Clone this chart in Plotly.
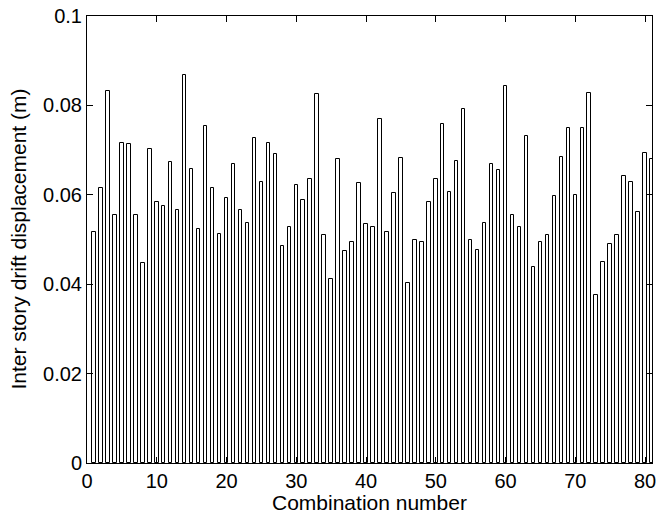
import plotly.graph_objects as go

combination = list(range(1, 82))
drift = [0.0517, 0.0615, 0.0832, 0.0554, 0.0717, 0.0714, 0.0554, 0.0447, 0.0703, 0.0585,
         0.0576, 0.0674, 0.0565, 0.0868, 0.0657, 0.0524, 0.0753, 0.0615, 0.0513, 0.0592,
         0.0668, 0.0565, 0.0538, 0.0726, 0.0629, 0.0717, 0.0691, 0.0486, 0.0527, 0.0623,
         0.0588, 0.0635, 0.0826, 0.0509, 0.0412, 0.0679, 0.0474, 0.0494, 0.0626, 0.0535,
         0.0527, 0.0770, 0.0517, 0.0603, 0.0682, 0.0403, 0.0500, 0.0494, 0.0585, 0.0635,
         0.0759, 0.0606, 0.0676, 0.0793, 0.0500, 0.0477, 0.0538, 0.0670, 0.0656, 0.0844,
         0.0554, 0.0527, 0.0732, 0.0438, 0.0494, 0.0509, 0.0597, 0.0685, 0.0749, 0.0600,
         0.0749, 0.0828, 0.0376, 0.0450, 0.0489, 0.0509, 0.0641, 0.0629, 0.0562, 0.0693,
         0.0679]
x_ticks = [0, 10, 20, 30, 40, 50, 60, 70, 80]
y_ticks = [0, 0.02, 0.04, 0.06, 0.08, 0.1]
y_tick_labels = ["0", "0.02", "0.04", "0.06", "0.08", "0.1"]
x_title = "Combination number"
y_title = "Inter story drift displacement (m)"

FONT = "Liberation Sans, Arial, sans-serif"

fig = go.Figure(go.Bar(
    x=combination, y=drift, width=0.5,
    marker=dict(color="white", line=dict(color="black", width=1)),
))

fig.update_layout(
    width=659, height=519,
    margin=dict(l=87, r=3, t=16, b=56),
    paper_bgcolor="white", plot_bgcolor="white",
    font=dict(family=FONT, size=20, color="black"),
    showlegend=False,
    bargap=0,
)
fig.update_xaxes(
    range=[0, 81], tickvals=x_ticks, ticks="inside", ticklen=6, tickcolor="black",
    showline=True, linecolor="black", linewidth=1, mirror="ticks",
    showgrid=False, zeroline=False, ticklabeloverflow="allow",
)
fig.update_yaxes(
    range=[0, 0.1], tickvals=y_ticks, ticktext=y_tick_labels, ticks="inside", ticklen=6,
    tickcolor="black", showline=True, linecolor="black", linewidth=1, mirror="ticks",
    showgrid=False, zeroline=False, ticklabeloverflow="allow",
)
fig.add_annotation(
    text=x_title, xref="paper", yref="paper", x=0.5, y=-0.089,
    xanchor="center", yanchor="middle", showarrow=False, font=dict(size=21),
)
fig.add_annotation(
    text=y_title, xref="paper", yref="paper", x=-0.122, y=0.5, textangle=-90,
    xanchor="center", yanchor="middle", showarrow=False, font=dict(size=21),
)

fig.write_html("out.html")
